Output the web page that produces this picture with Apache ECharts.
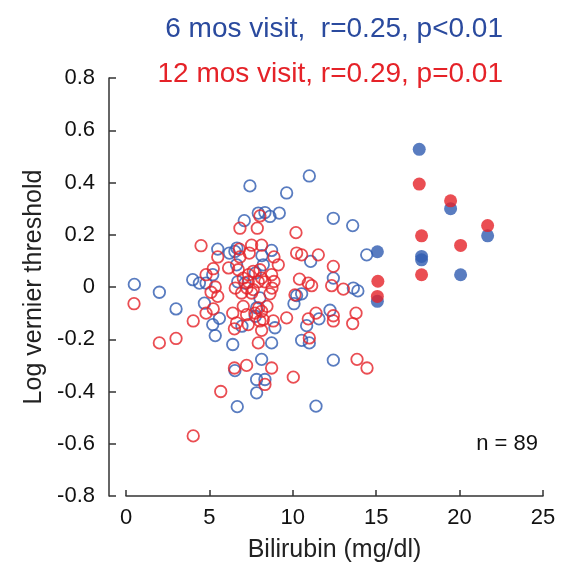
<!DOCTYPE html>
<html>
<head>
<meta charset="utf-8">
<script src="https://cdn.jsdelivr.net/npm/echarts@6/dist/echarts.min.js"></script>
<style>html,body{margin:0;padding:0;background:#fff}#c{width:570px;height:572px}</style>
</head>
<body>
<div id="c"></div>
<script>
const xTicks = [0, 5, 10, 15, 20, 25];
const yTicks = [-0.8, -0.6, -0.4, -0.2, 0, 0.2, 0.4, 0.6, 0.8];
const titleBlue = "6 mos visit,  r=0.25, p<0.01";
const titleRed = "12 mos visit, r=0.29, p=0.01";
const nLabel = "n = 89";

// 6 months visit, open circles [bilirubin, log vernier threshold]
const blueOpen = [
  [0.5,0.01],[2.0,-0.02],[3.0,-0.084],[4.0,0.028],[4.4,0.015],[4.8,0.015],[5.2,0.047],
  [5.5,0.145],[6.2,0.13],[4.7,-0.062],[5.6,-0.12],[5.2,-0.144],[5.35,-0.186],[6.4,-0.22],
  [7.43,0.387],[9.63,0.36],[7.93,0.283],[8.33,0.285],[8.63,0.27],[9.19,0.283],[7.09,0.254],
  [6.53,0.136],[6.65,0.149],[8.73,0.14],[8.15,0.12],[8.23,0.085],[6.63,0.085],[7.75,0.053],
  [7.13,0.015],[6.7,0.02],[8.03,-0.042],[7.83,-0.08],[7.75,-0.112],[6.95,-0.15],[8.93,-0.156],
  [8.73,-0.214],[8.13,-0.277],[6.53,-0.32],[7.83,-0.354],[8.33,-0.354],[7.83,-0.405],[6.67,-0.458],
  [10.99,0.425],[12.43,0.263],[13.59,0.235],[11.07,0.098],[14.43,0.123],[12.43,0.034],
  [13.63,-0.004],[13.9,-0.015],[10.23,-0.033],[10.53,-0.026],[10.07,-0.064],[11.57,-0.122],
  [12.23,-0.089],[10.83,-0.148],[10.53,-0.204],[10.99,-0.214],[12.43,-0.28],[11.39,-0.456]
];
// 12 months visit, open circles
const redOpen = [
  [0.48,-0.064],[2.0,-0.214],[3.0,-0.197],[4.03,-0.13],[5.68,-0.40],[4.03,-0.57],[4.5,0.158],
  [5.5,0.115],[5.23,0.07],[4.8,0.047],[5.35,0.0],[5.1,-0.02],[5.5,-0.036],[5.23,-0.084],
  [4.8,-0.10],[6.4,-0.1],[6.5,-0.16],[6.5,-0.31],[8.03,0.272],[6.83,0.225],[7.87,0.225],
  [10.19,0.208],[6.8,0.145],[7.53,0.16],[8.13,0.16],[6.83,0.115],[7.39,0.13],[8.87,0.115],
  [9.13,0.085],[10.23,0.13],[6.15,0.073],[6.73,0.066],[7.03,0.034],[7.35,0.047],[7.63,0.06],
  [8.03,0.066],[8.73,0.047],[8.13,0.034],[8.87,0.021],[10.4,0.03],[6.55,-0.004],[7.25,-0.004],
  [8.75,-0.004],[6.93,-0.023],[7.53,-0.023],[7.63,-0.01],[7.33,0.02],[7.93,0.02],[8.33,0.02],
  [8.63,-0.026],[7.03,-0.074],[7.95,-0.08],[8.45,-0.074],[7.23,-0.106],[7.73,-0.1],[8.13,-0.093],
  [6.63,-0.137],[7.33,-0.144],[8.03,-0.13],[8.23,-0.125],[8.83,-0.13],[9.63,-0.118],[8.13,-0.166],
  [10.13,-0.03],[7.93,-0.214],[7.23,-0.30],[8.73,-0.31],[8.33,-0.373],[10.03,-0.345],
  [10.53,0.123],[11.53,0.123],[12.43,0.079],[10.93,0.015],[11.13,0.005],[12.33,0.005],
  [13.03,-0.008],[10.93,-0.122],[11.39,-0.1],[12.43,-0.11],[12.43,-0.13],[13.79,-0.1],
  [13.59,-0.14],[10.99,-0.195],[13.85,-0.277],[14.45,-0.31]
];
// filled circles
const blueFilled = [
  [15.07,0.135],[15.07,-0.055],[17.58,0.527],[17.72,0.117],[17.72,0.104],[19.46,0.30],
  [21.68,0.196],[20.06,0.047]
];
const redFilled = [
  [15.1,0.022],[15.07,-0.036],[17.58,0.394],[19.46,0.33],[21.68,0.235],[17.72,0.196],
  [20.06,0.159],[17.72,0.047]
];

const BLUE = '#2f5bb0';
const RED = '#e52228';
const FONT = "'Liberation Sans', Arial, Helvetica, sans-serif";

const chart = echarts.init(document.getElementById('c'), null, {renderer: 'canvas'});
const openStyle = c => ({color: 'rgba(255,255,255,0)', borderColor: c, borderWidth: 1.8});
chart.setOption({
  animation: false,
  backgroundColor: '#fff',
  textStyle: {fontFamily: FONT},
  title: [
    {text: titleBlue, right: 62, top: 10, textStyle: {color: '#2a4a9e', fontSize: 28, fontWeight: 'normal', fontFamily: FONT}},
    {text: titleRed, right: 62, top: 55, textStyle: {color: RED, fontSize: 28, fontWeight: 'normal', fontFamily: FONT}}
  ],
  grid: {left: 126, right: 27, top: 78, bottom: 76, containLabel: false},
  xAxis: {
    type: 'value', min: xTicks[0], max: xTicks[xTicks.length - 1], interval: 5,
    name: 'Bilirubin (mg/dl)', nameLocation: 'middle', nameGap: 42,
    nameTextStyle: {fontSize: 25, color: '#222', fontFamily: FONT},
    axisLine: {show: true, onZero: false, lineStyle: {color: '#333', width: 1.5}},
    axisTick: {show: true, inside: true, length: 6, lineStyle: {color: '#333', width: 1.5}},
    axisLabel: {fontSize: 22, color: '#111', margin: 11, fontFamily: FONT},
    splitLine: {show: false}
  },
  yAxis: {
    type: 'value', min: yTicks[0], max: yTicks[yTicks.length - 1], interval: 0.2,
    offset: 17,
    name: 'Log vernier threshold', nameLocation: 'middle', nameGap: 58, nameRotate: 90,
    nameTextStyle: {fontSize: 25, color: '#222', fontFamily: FONT},
    axisLine: {show: true, onZero: false, lineStyle: {color: '#333', width: 1.5}},
    axisTick: {show: true, inside: true, length: 7, lineStyle: {color: '#333', width: 1.5}},
    axisLabel: {fontSize: 22, color: '#111', margin: 14, fontFamily: FONT,
      formatter: v => (Math.round(v * 10) / 10).toString()},
    splitLine: {show: false}
  },
  graphic: [
    {type: 'text', right: 32, top: 433, style: {text: nLabel, fontSize: 22, fill: '#111', font: '22px ' + FONT}}
  ],
  series: [
    {type: 'scatter', data: blueOpen, symbol: 'circle', symbolSize: 11.5, itemStyle: openStyle(BLUE), z: 2},
    {type: 'scatter', data: redOpen, symbol: 'circle', symbolSize: 11.5, itemStyle: openStyle(RED), z: 3},
    {type: 'scatter', data: blueFilled, symbol: 'circle', symbolSize: 13, itemStyle: {color: BLUE}, z: 4},
    {type: 'scatter', data: redFilled, symbol: 'circle', symbolSize: 13, itemStyle: {color: RED}, z: 5}
  ]
});
</script>
</body>
</html>
